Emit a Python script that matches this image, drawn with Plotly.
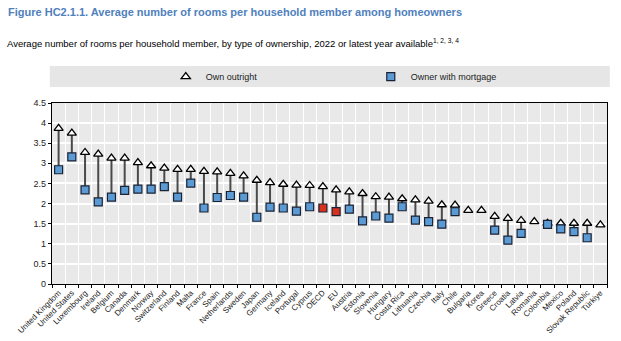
import plotly.graph_objects as go

countries = ["United Kingdom", "United States", "Luxembourg", "Ireland", "Belgium", "Canada",
             "Denmark", "Norway", "Switzerland", "Finland", "Malta", "France", "Spain",
             "Netherlands", "Sweden", "Japan", "Germany", "Iceland", "Portugal", "Cyprus",
             "OECD", "EU", "Austria", "Estonia", "Slovenia", "Hungary", "Costa Rica",
             "Lithuania", "Czechia", "Italy", "Chile", "Bulgaria", "Korea", "Greece",
             "Croatia", "Latvia", "Romania", "Colombia", "Mexico", "Poland",
             "Slovak Republic", "Türkiye"]

own_outright = [3.87, 3.75, 3.27, 3.23, 3.13, 3.13, 3.02, 2.94, 2.88, 2.85, 2.85, 2.80, 2.79,
                2.75, 2.69, 2.58, 2.52, 2.48, 2.46, 2.45, 2.42, 2.34, 2.29, 2.25, 2.17, 2.16,
                2.12, 2.09, 2.06, 1.97, 1.96, 1.83, 1.83, 1.68, 1.63, 1.58, 1.55, 1.51, 1.51,
                1.51, 1.51, 1.47]

owner_mortgage = [2.84, 3.16, 2.34, 2.04, 2.16, 2.33, 2.36, 2.36, 2.42, 2.16, 2.51, 1.89, 2.15,
                  2.20, 2.16, 1.66, 1.91, 1.89, 1.81, 1.92, 1.89, 1.80, 1.86, 1.57, 1.69, 1.64,
                  1.92, 1.59, 1.55, 1.49, 1.80, None, None, 1.34, 1.09, 1.26, None, 1.48, 1.37,
                  1.30, 1.15, None]

y_ticks = [0, 0.5, 1, 1.5, 2, 2.5, 3, 3.5, 4, 4.5]

highlight = {"OECD", "EU"}

FONT = "Liberation Sans, Arial, sans-serif"

xs = list(range(len(countries)))

# connecting segments built from the data
seg_x, seg_y = [], []
for i, (a, b) in enumerate(zip(own_outright, owner_mortgage)):
    if a is not None and b is not None:
        seg_x += [i, i, None]
        seg_y += [a, b, None]

fig = go.Figure()
fig.add_trace(go.Scatter(x=seg_x, y=seg_y, mode="lines",
                         line=dict(color="#4a4a4a", width=2),
                         showlegend=False, hoverinfo="skip"))
fig.add_trace(go.Scatter(x=xs, y=own_outright, mode="markers", name="Own outright",
                         marker=dict(symbol="triangle-up", size=8, color="white",
                                     line=dict(color="black", width=1.3))))
sq_colors = ["#d9301e" if c in highlight else "#5b9bd5" for c in countries]
fig.add_trace(go.Scatter(x=xs, y=owner_mortgage, mode="markers", name="Owner with mortgage",
                         marker=dict(symbol="square", size=8, color=sq_colors,
                                     line=dict(color="#1a2233", width=1.2))))

fig.update_layout(
    width=621, height=341,
    margin=dict(l=52, r=14, t=103, b=57),
    paper_bgcolor="white",
    plot_bgcolor="#e9e9e9",
    font=dict(family=FONT, color="#222222", size=10),
    title=dict(text="<b>Figure HC2.1.1. Average number of rooms per household member among homeowners</b>",
               x=0.013, xanchor="left", xref="container",
               y=1 - 12 / 341, yanchor="middle", yref="container",
               font=dict(family=FONT, size=11, color="#4f81bd")),
    showlegend=True,
    legend=dict(orientation="h", x=0.205, xanchor="left", y=1.146, yanchor="middle",
                bgcolor="rgba(0,0,0,0)", font=dict(size=9, family=FONT, color="#222"),
                entrywidth=160, entrywidthmode="pixels", itemwidth=30),
    shapes=[dict(type="rect", xref="paper", yref="paper",
                 x0=-0.004, x1=1.005, y0=1.088, y1=1.204,
                 fillcolor="#e6e6e6", line=dict(width=0), layer="below")],
    annotations=[dict(text="Average number of rooms per household member, by type of ownership, 2022 or latest year available<sup>1, 2, 3, 4</sup>",
                      xref="paper", yref="paper", x=-0.085, y=1.331,
                      xanchor="left", yanchor="middle", showarrow=False,
                      font=dict(family=FONT, size=9.5, color="black"))],
)

fig.update_xaxes(
    range=[-0.5, len(countries) - 0.5],
    tickmode="array", tickvals=xs, ticktext=countries, tickangle=-45,
    tickfont=dict(size=8, family=FONT, color="#222"),
    ticks="", showgrid=False, automargin=False,
    minor=dict(tick0=0.5, dtick=1, showgrid=True, gridcolor="white", gridwidth=1.2,
               ticks="outside", ticklen=3, tickcolor="black"),
    showline=True, linecolor="black", linewidth=1.2, mirror=True, zeroline=False,
)
fig.update_yaxes(
    range=[0, 4.5], tickmode="array", tickvals=y_ticks,
    ticktext=[f"{v:g}" for v in y_ticks], automargin=False,
    tickfont=dict(size=9, family=FONT, color="#222"),
    ticks="outside", ticklen=3, tickcolor="black",
    showgrid=True, gridcolor="white", gridwidth=1.5,
    showline=True, linecolor="black", linewidth=1.2, mirror=True, zeroline=False,
)

fig.write_html("out.html")
